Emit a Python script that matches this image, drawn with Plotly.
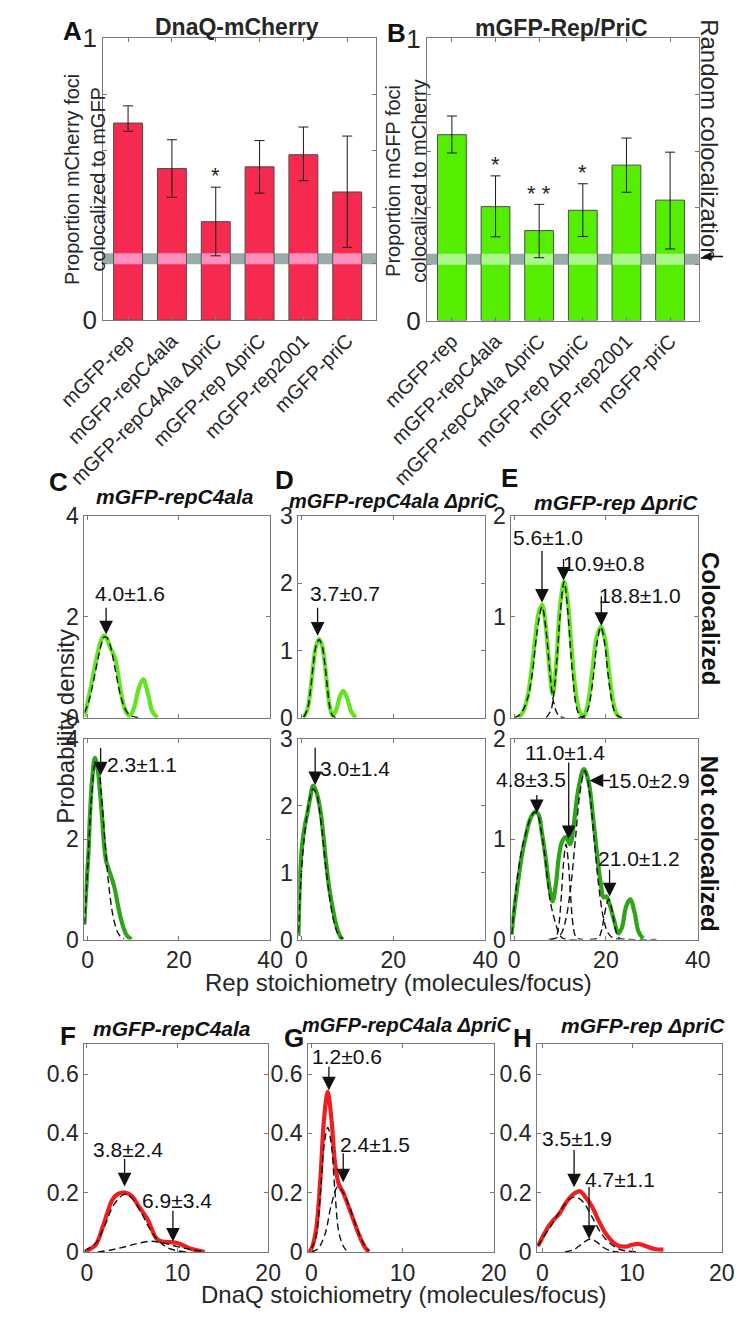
import plotly.graph_objects as go

W, H = 745, 1322
FONT = "Liberation Sans, Arial, Helvetica, sans-serif"
INK = "#262626"
AXC = "#7a7a7a"

# ---------------- data: colocalization bar charts (A, B) ----------------
strains = ["mGFP-rep", "mGFP-repC4ala", "mGFP-repC4Ala ΔpriC",
           "mGFP-rep ΔpriC", "mGFP-rep2001", "mGFP-priC"]
bar_pos = [1, 2, 3, 4, 5, 6]
dnaq_coloc = [0.698, 0.537, 0.349, 0.543, 0.586, 0.454]
dnaq_err_hi = [0.061, 0.102, 0.122, 0.093, 0.098, 0.198]
dnaq_err_lo = [0.029, 0.102, 0.121, 0.093, 0.092, 0.196]
dnaq_sig = ["", "", "*", "", "", ""]
rep_coloc = [0.659, 0.404, 0.319, 0.391, 0.551, 0.427]
rep_err_hi = [0.066, 0.109, 0.093, 0.094, 0.096, 0.170]
rep_err_lo = [0.065, 0.107, 0.096, 0.093, 0.096, 0.173]
rep_sig = ["", "*", "* *", "*", "", ""]
random_band = [0.198, 0.237]

# ---------------- data: Rep stoichiometry (C, D, E) ----------------
# C  mGFP-repC4ala
c_col_x = [-0.7, 0, 1, 2, 3, 3.6, 4.3, 5, 5.6, 6.1, 6.7, 7.3, 8, 8.7, 9.3, 10.2, 11.2, 12.2, 13.2, 14.2, 15.3]
c_col_y = [0.02, 0.3, 0.75, 1.2, 1.55, 1.63, 1.55, 1.38, 1.27, 1.15, 0.85, 0.5, 0.22, 0.07, 0.04, 0.2, 0.58, 0.76, 0.48, 0.12, 0]
c_col_fit_x = [-0.7, 0, 1, 2, 3, 3.6, 4.3, 5, 6, 7, 8, 9, 10, 11, 12]
c_col_fit_y = [0.1, 0.25, 0.6, 1.05, 1.45, 1.6, 1.58, 1.42, 0.98, 0.52, 0.22, 0.07, 0.02, 0.005, 0]
c_not_x = [-0.7, -0.5, -0.1, 0.2, 0.5, 1.0, 1.6, 2.2, 2.7, 3.2, 3.6, 4.1, 4.7, 5.3, 5.9, 6.5, 7.2, 8.0, 8.6, 9.6]
c_not_y = [0.3, 0.7, 1.3, 1.75, 2.45, 3.2, 3.62, 3.4, 2.95, 2.4, 1.9, 1.55, 1.38, 1.22, 1.03, 0.75, 0.45, 0.2, 0.08, 0]
c_not_fit_x = [-0.7, -0.5, 0, 0.5, 1, 1.7, 2.3, 3, 3.6, 4.2, 4.8, 5.4, 6, 6.6, 7.2, 8]
c_not_fit_y = [0.3, 0.6, 1.4, 2.3, 3.0, 3.5, 3.45, 2.9, 2.2, 1.5, 0.95, 0.55, 0.3, 0.14, 0.06, 0.01]
c_col_peaks = [("4.0±1.6", 4.05, 1.65, 4.05, 2.21, 9.2, 2.47)]
c_not_peaks = [("2.3±1.1", 2.85, 3.27, 2.85, 3.85, 11.9, 3.48)]

# D  mGFP-repC4ala ΔpriC
d_col_x = [0.5, 1.3, 2, 2.6, 3.2, 3.85, 4.5, 5.1, 5.7, 6.2, 6.8, 7.5, 8.3, 9.1, 9.9, 10.8, 11.8]
d_col_y = [0, 0.12, 0.42, 0.8, 1.07, 1.17, 1.07, 0.8, 0.42, 0.15, 0.03, 0.1, 0.3, 0.4, 0.3, 0.1, 0]
d_col_fit_x = [0.5, 1.3, 2, 2.6, 3.2, 3.85, 4.5, 5.1, 5.7, 6.2, 6.8, 7.5]
d_col_fit_y = [0.01, 0.12, 0.42, 0.8, 1.07, 1.16, 1.07, 0.8, 0.42, 0.15, 0.03, 0]
d_not_x = [-0.65, -0.45, -0.2, 0.3, 0.8, 1.4, 2, 2.5, 3, 3.5, 4.2, 4.8, 5.3, 6, 6.6, 7.3, 8, 8.7, 9.1]
d_not_y = [0.05, 0.6, 1.1, 1.5, 1.72, 1.92, 2.15, 2.3, 2.25, 2.15, 1.9, 1.55, 1.2, 0.8, 0.55, 0.3, 0.12, 0.02, 0]
d_not_fit_x = [-0.65, -0.4, 0, 0.6, 1.2, 1.8, 2.5, 3.2, 3.9, 4.6, 5.3, 6, 6.8, 7.6, 8.4, 9]
d_not_fit_y = [0.1, 0.5, 1.0, 1.5, 1.85, 2.1, 2.25, 2.2, 1.95, 1.55, 1.1, 0.7, 0.35, 0.14, 0.04, 0.01]
d_col_peaks = [("3.7±0.7", 3.53, 1.22, 3.53, 1.66, 9.5, 1.85)]
d_not_peaks = [("3.0±1.4", 3.0, 2.31, 3.0, 2.89, 11.7, 2.55)]

# E  mGFP-rep ΔpriC
e_col_x = [1, 2, 3, 3.7, 4.7, 5.4, 6.1, 6.8, 7.6, 8.4, 9.2, 10, 10.9, 11.7, 12.5, 13.3, 14.2, 15.1,
           16, 17, 18, 18.9, 19.8, 20.7, 21.5, 22.3, 23.1]
e_col_y = [0, 0.06, 0.22, 0.44, 0.83, 1.05, 1.12, 0.95, 0.55, 0.23, 0.55, 1.1, 1.35, 1.15, 0.7, 0.3, 0.07, 0.01,
           0.12, 0.45, 0.8, 0.9, 0.78, 0.45, 0.18, 0.04, 0]
e_col_fit1_x = [0, 1, 2, 3, 4, 5, 6.1, 7, 7.8, 8.5, 9.3, 10, 11]
e_col_fit1_y = [0, 0.02, 0.08, 0.2, 0.45, 0.85, 1.1, 0.85, 0.45, 0.18, 0.05, 0.01, 0]
e_col_fit2_x = [7, 8, 8.5, 9, 9.5, 10, 10.9, 11.8, 12.3, 12.8, 13.3, 13.8, 14.5, 15.5]
e_col_fit2_y = [0, 0.07, 0.18, 0.4, 0.68, 1.0, 1.35, 1.0, 0.68, 0.4, 0.18, 0.07, 0.01, 0]
e_col_fit3_x = [14, 15, 16, 16.5, 17, 17.5, 18, 18.9, 19.8, 20.3, 20.8, 21.3, 21.8, 22.8, 24]
e_col_fit3_y = [0, 0.01, 0.07, 0.16, 0.31, 0.5, 0.72, 0.9, 0.72, 0.5, 0.31, 0.16, 0.07, 0.01, 0]
e_not_x = [-0.55, 0, 1, 1.7, 2.5, 3.5, 4.5, 5.3, 6, 6.8, 7.6, 8.4, 9.1, 9.8, 10.5, 11.3, 12.2, 13, 14,
           15.2, 16.2, 17.2, 18.1, 18.9, 19.5, 20.1, 20.8, 21.8, 22.7, 23.5, 24.4, 25.3, 26.2, 27.1, 28.1]
e_not_y = [0.05, 0.28, 0.62, 0.84, 1.02, 1.2, 1.27, 1.25, 1.08, 0.84, 0.55, 0.38, 0.55, 0.84, 0.98, 1.02, 0.95,
           1.15, 1.5, 1.7, 1.58, 1.22, 0.84, 0.55, 0.42, 0.43, 0.35, 0.19, 0.06, 0.12, 0.33, 0.4, 0.28, 0.08, 0.01]
e_not_fit1_x = [-0.55, 0, 0.8, 1.7, 2.5, 3.5, 4.5, 5.3, 6, 6.8, 7.5, 8.1, 8.8, 9.6, 10.4, 11.5, 14]
e_not_fit1_y = [0.05, 0.3, 0.65, 0.9, 1.05, 1.2, 1.27, 1.22, 1.05, 0.8, 0.5, 0.33, 0.2, 0.08, 0.02, 0, 0]
e_not_fit2_x = [7.5, 8.8, 9.3, 9.8, 10.3, 10.8, 11.3, 11.8, 12.3, 12.8, 13.3, 13.8, 15]
e_not_fit2_y = [0, 0.01, 0.04, 0.16, 0.44, 0.78, 0.95, 0.78, 0.44, 0.16, 0.04, 0.01, 0]
e_not_fit3_x = [8, 9.4, 10.4, 11.4, 12.4, 13.4, 14.4, 15.4, 16.4, 17.4, 18.4, 19.4, 20.4, 21.4, 23]
e_not_fit3_y = [0, 0.02, 0.07, 0.23, 0.55, 1.02, 1.48, 1.68, 1.48, 1.02, 0.55, 0.23, 0.07, 0.02, 0]
e_not_fit4_x = [16.5, 18.1, 18.6, 19.1, 19.6, 20.1, 20.6, 21.1, 21.6, 22.1, 22.6, 23.1, 25, 31]
e_not_fit4_y = [0, 0.01, 0.03, 0.1, 0.22, 0.34, 0.4, 0.34, 0.22, 0.1, 0.03, 0.01, 0, 0]
e_col_peaks = [("5.6±1.0", 6.08, 1.14, 6.08, 1.67, 7.4, 1.79),
               ("10.9±0.8", 10.77, 1.36, 10.77, 1.59, 19.6, 1.53),
               ("18.8±1.0", 19.0, 0.91, 19.0, 1.22, 27.5, 1.21)]
e_not_peaks = [("4.8±3.5", 4.95, 1.26, 4.95, 1.455, 3.75, 1.60),
               ("11.0±1.4", 11.9, 1.0, 11.9, 1.78, 11.0, 1.86),
               ("15.0±2.9", 16.45, 1.585, 21.3, 1.585, 29.5, 1.585),
               ("21.0±1.2", 20.8, 0.43, 20.8, 0.71, 27.3, 0.81)]

# ---------------- data: DnaQ stoichiometry (F, G, H) ----------------
f_x = [-0.25, 0, 1, 1.7, 2.3, 2.8, 3.4, 4.2, 5, 5.7, 6.7, 7.7, 8.3, 9.2, 10, 10.8, 11.6, 12.4, 13]
f_y = [0, 0.004, 0.025, 0.079, 0.135, 0.175, 0.195, 0.2, 0.188, 0.155, 0.11, 0.045, 0.035, 0.033, 0.03, 0.02,
       0.01, 0.004, 0]
f_fit1_x = [-0.25, 0, 1, 2, 3, 4.2, 5, 6, 7, 8, 9, 10, 11]
f_fit1_y = [0.003, 0.008, 0.03, 0.09, 0.16, 0.195, 0.18, 0.133, 0.075, 0.035, 0.013, 0.004, 0]
f_fit2_x = [1.2, 2.5, 4, 5.5, 7, 8.5, 10, 11.5, 13]
f_fit2_y = [0, 0.006, 0.016, 0.028, 0.036, 0.03, 0.018, 0.008, 0.002]
f_peaks = [("3.8±2.4", 4.17, 0.221, 4.17, 0.319, 4.57, 0.347),
           ("6.9±3.4", 9.5, 0.035, 9.5, 0.144, 9.97, 0.172)]

g_x = [-0.3, 0, 0.5, 1, 1.4, 1.8, 2.2, 2.6, 3.0, 3.5, 4, 4.6, 5.2, 5.8, 6.3]
g_y = [0, 0.01, 0.07, 0.25, 0.45, 0.54, 0.45, 0.3, 0.23, 0.2, 0.16, 0.11, 0.06, 0.02, 0]
g_fit1_x = [0, 0.5, 1, 1.4, 1.8, 2.2, 2.6, 3, 3.5, 4]
g_fit1_y = [0.01, 0.05, 0.2, 0.36, 0.42, 0.36, 0.2, 0.07, 0.02, 0]
g_fit2_x = [0, 0.7, 1.5, 2.2, 2.9, 3.5, 4.2, 5, 5.7, 6.3]
g_fit2_y = [0, 0.01, 0.06, 0.16, 0.22, 0.2, 0.15, 0.08, 0.03, 0.005]
g_peaks = [("1.2±0.6", 1.93, 0.545, 1.93, 0.63, 3.9, 0.66),
           ("2.4±1.5", 3.5, 0.235, 3.5, 0.338, 7.0, 0.363)]

h_x = [-0.5, 0, 0.7, 1.3, 1.9, 2.5, 3.1, 3.7, 4.2, 4.8, 5.5, 6.2, 7, 7.7, 8.4, 9.2, 10, 10.7, 11.5, 12.5, 13.5]
h_y = [0.02, 0.05, 0.087, 0.11, 0.13, 0.16, 0.185, 0.2, 0.205, 0.185, 0.155, 0.11, 0.065, 0.038, 0.022, 0.018,
       0.024, 0.027, 0.02, 0.01, 0.008]
h_fit1_x = [-0.5, 0, 1, 2, 3, 3.7, 4.5, 5.5, 6.5, 7.5, 8.5, 9.5, 10.5]
h_fit1_y = [0.02, 0.045, 0.09, 0.14, 0.178, 0.185, 0.17, 0.12, 0.065, 0.03, 0.01, 0.003, 0]
h_fit2_x = [2.5, 3.5, 4.3, 5, 5.4, 6, 6.8, 7.6, 8.5]
h_fit2_y = [0, 0.008, 0.025, 0.04, 0.044, 0.035, 0.015, 0.004, 0]
h_peaks = [("3.5±1.9", 3.53, 0.218, 3.53, 0.349, 3.87, 0.382),
           ("4.7±1.1", 5.2, 0.044, 5.2, 0.224, 8.6, 0.245)]

# ---------------- styling ----------------
RED_BAR, PINK = "#f6294f", "#ff8fbd"
GREEN_BAR, LGREEN = "#56ee00", "#aaf78b"
BAND = "#9aaca8"
LIGHT_G, DARK_G, RED_L = "#62e41e", "#2ea418", "#f01e1e"
TICK_SIZE = 23
NOTE_SIZE = 21


def px_dom_x(l, r):
    return [l / W, r / W]


def px_dom_y(t, b):
    return [1 - b / H, 1 - t / H]


def axis(**kw):
    d = dict(showline=True, linecolor=AXC, linewidth=1, mirror="ticks", ticks="inside",
             ticklen=4, tickcolor=AXC, showgrid=False, zeroline=False,
             tickfont=dict(family=FONT, size=TICK_SIZE, color=INK), fixedrange=True)
    d.update(kw)
    return d


fig = go.Figure()
layout = dict(width=W, height=H, margin=dict(l=0, r=0, t=0, b=0), showlegend=False,
              plot_bgcolor="white", paper_bgcolor="white", barmode="overlay",
              font=dict(family=FONT, color=INK))
annotations = []
shapes = []

# ---------------- A & B ----------------
bar_specs = [
    ("", (61, 358), (23.3, 312.3), dnaq_coloc, dnaq_err_hi, dnaq_err_lo, dnaq_sig, RED_BAR, PINK),
    ("2", (413.3, 709), (24, 312.7), rep_coloc, rep_err_hi, rep_err_lo, rep_sig, GREEN_BAR, LGREEN),
]
for sfx, xd, yd, vals, ehi, elo, sig, col, ov in bar_specs:
    xa, ya = "x" + sfx, "y" + sfx
    fig.add_trace(go.Bar(x=bar_pos, y=vals, width=0.66, marker=dict(color=col, line=dict(color="#4d4d4d", width=1)),
                         xaxis=xa, yaxis=ya, hoverinfo="skip"))
    fig.add_trace(go.Bar(x=bar_pos, y=[random_band[1] - random_band[0]] * len(bar_pos), base=random_band[0],
                         width=0.64, marker=dict(color=ov, line=dict(width=0)), xaxis=xa, yaxis=ya, hoverinfo="skip"))
    fig.add_trace(go.Bar(x=bar_pos, y=vals, width=0.66, marker=dict(color="rgba(0,0,0,0)", line=dict(width=0)),
                         error_y=dict(type="data", array=ehi, arrayminus=elo, color="#1a1a1a", thickness=1, width=5),
                         xaxis=xa, yaxis=ya, hoverinfo="skip"))
    shapes.append(dict(type="rect", xref=xa + " domain", yref=ya, x0=0, x1=1, y0=random_band[0], y1=random_band[1],
                       fillcolor=BAND, line=dict(width=0), layer="below"))
    layout["xaxis" + sfx] = axis(domain=px_dom_x(*xd), range=[0.43, 6.66], tickvals=bar_pos, ticktext=strains,
                                 tickangle=-45, tickfont=dict(family=FONT, size=20, color=INK), anchor=ya)
    layout["yaxis" + sfx] = axis(domain=px_dom_y(*yd), range=[0, 1], tickvals=[0, 0.2, 0.4, 0.6, 0.8, 1],
                                 ticktext=["0", "", "", "", "", "1"], tickfont=dict(family=FONT, size=26, color=INK),
                                 anchor=xa)
    for i, s in enumerate(sig):
        if s:
            annotations.append(dict(x=bar_pos[i], y=vals[i] + ehi[i] + 0.04, xref=xa, yref=ya, text=s,
                                    showarrow=False, font=dict(family=FONT, size=22, color=INK),
                                    xanchor="center", yanchor="middle"))

# ---------------- C-H density panels ----------------
panels = [
    dict(n=3, xd=(40.7, 242.7), yd=(512.7, 719), xr=[-0.7, 40], yr=[0, 4], yt=[0, 2, 4], xt=[0, 20, 40], xlab=False,
         col=LIGHT_G, cx=c_col_x, cy=c_col_y, fits=[(c_col_fit_x, c_col_fit_y)], peaks=c_col_peaks),
    dict(n=4, xd=(40.7, 242.7), yd=(740.7, 946), xr=[-0.7, 40], yr=[0, 4], yt=[0, 2, 4], xt=[0, 20, 40], xlab=True,
         col=DARK_G, cx=c_not_x, cy=c_not_y, fits=[(c_not_fit_x, c_not_fit_y)], peaks=c_not_peaks),
    dict(n=5, xd=(273.3, 476.7), yd=(512.7, 719), xr=[-0.67, 40], yr=[0, 3], yt=[0, 1, 2, 3], xt=[0, 20, 40], xlab=False,
         col=LIGHT_G, cx=d_col_x, cy=d_col_y, fits=[(d_col_fit_x, d_col_fit_y)], peaks=d_col_peaks),
    dict(n=6, xd=(273.3, 476.7), yd=(740.7, 946), xr=[-0.67, 40], yr=[0, 3], yt=[0, 1, 2, 3], xt=[0, 20, 40], xlab=True,
         col=DARK_G, cx=d_not_x, cy=d_not_y, fits=[(d_not_fit_x, d_not_fit_y)], peaks=d_not_peaks),
    dict(n=7, xd=(505, 707.7), yd=(512.7, 719), xr=[-0.6, 40], yr=[0, 2], yt=[0, 1, 2], xt=[0, 20, 40], xlab=False,
         col=LIGHT_G, cx=e_col_x, cy=e_col_y,
         fits=[(e_col_fit1_x, e_col_fit1_y), (e_col_fit2_x, e_col_fit2_y), (e_col_fit3_x, e_col_fit3_y)],
         peaks=e_col_peaks),
    dict(n=8, xd=(505, 707.7), yd=(740.7, 946), xr=[-0.6, 40], yr=[0, 2], yt=[0, 1, 2], xt=[0, 20, 40], xlab=True,
         col=DARK_G, cx=e_not_x, cy=e_not_y,
         fits=[(e_not_fit1_x, e_not_fit1_y), (e_not_fit2_x, e_not_fit2_y), (e_not_fit3_x, e_not_fit3_y),
               (e_not_fit4_x, e_not_fit4_y)],
         peaks=e_not_peaks),
    dict(n=9, xd=(40.7, 240.7), yd=(1053.3, 1265.7), xr=[-0.26, 20.02], yr=[0, 0.7], yt=[0, 0.2, 0.4, 0.6],
         xt=[0, 10, 20], xlab=True, col=RED_L, cx=f_x, cy=f_y, fits=[(f_fit1_x, f_fit1_y), (f_fit2_x, f_fit2_y)],
         peaks=f_peaks),
    dict(n=10, xd=(284, 486), yd=(1053.3, 1265.7), xr=[-0.35, 20.02], yr=[0, 0.7], yt=[0, 0.2, 0.4, 0.6],
         xt=[0, 10, 20], xlab=True, col=RED_L, cx=g_x, cy=g_y, fits=[(g_fit1_x, g_fit1_y), (g_fit2_x, g_fit2_y)],
         peaks=g_peaks),
    dict(n=11, xd=(533, 734), yd=(1053.3, 1265.7), xr=[-0.6, 20.02], yr=[0, 0.7], yt=[0, 0.2, 0.4, 0.6],
         xt=[0, 10, 20], xlab=True, col=RED_L, cx=h_x, cy=h_y, fits=[(h_fit1_x, h_fit1_y), (h_fit2_x, h_fit2_y)],
         peaks=h_peaks),
]

for p in panels:
    n = p["n"]
    xa, ya = "x%d" % n, "y%d" % n
    fig.add_trace(go.Scatter(x=p["cx"], y=p["cy"], mode="lines", line=dict(color=p["col"], width=4.2, shape="spline"),
                             xaxis=xa, yaxis=ya, hoverinfo="skip"))
    for fx, fy in p["fits"]:
        fig.add_trace(go.Scatter(x=fx, y=fy, mode="lines",
                                 line=dict(color="#111111", width=1.4, dash="7px,4px", shape="spline"),
                                 xaxis=xa, yaxis=ya, hoverinfo="skip"))
    ylabels = [("%g" % v) for v in p["yt"]]
    layout["xaxis%d" % n] = axis(domain=px_dom_x(*p["xd"]), range=p["xr"], tickvals=p["xt"],
                                 showticklabels=p["xlab"], anchor=ya)
    layout["yaxis%d" % n] = axis(domain=px_dom_y(*p["yd"]), range=p["yr"], tickvals=p["yt"], ticktext=ylabels,
                                 anchor=xa)
    for lab, tx, ty, ax_, ay_, lx, ly in p["peaks"]:
        annotations.append(dict(x=tx, y=ty, ax=ax_, ay=ay_, xref=xa, yref=ya, axref=xa, ayref=ya, text="",
                                showarrow=True, arrowhead=2, arrowsize=2.1, arrowwidth=1.3, arrowcolor="#111111"))
        annotations.append(dict(x=lx, y=ly, xref=xa, yref=ya, text=lab, showarrow=False,
                                font=dict(family=FONT, size=NOTE_SIZE, color="#111111"),
                                xanchor="center", yanchor="middle"))


# ---------------- paper-level texts ----------------
def ptxt(x, y, text, size, bold=False, italic=False, angle=0, color="#111111"):
    t = text
    if italic:
        t = "<i>" + t + "</i>"
    if bold:
        t = "<b>" + t + "</b>"
    annotations.append(dict(x=x / W, y=1 - y / H, xref="paper", yref="paper", text=t, showarrow=False,
                            textangle=angle, font=dict(family=FONT, size=size, color=color),
                            xanchor="center", yanchor="middle"))


# panel letters
for letter, x, y in [("A", 27.5, 16), ("B", 380, 18), ("C", 12, 478), ("D", 258, 476), ("E", 503, 474),
                     ("F", 23, 1045), ("G", 269, 1047), ("H", 517, 1047)]:
    ptxt(x, y, letter, 26, bold=True)

ptxt(207, 12, "DnaQ-mCherry", 23, bold=True, color=INK)
ptxt(560, 13, "mGFP-Rep/PriC", 23, bold=True, color=INK)
ptxt(41, 168, "Proportion mCherry foci<br>colocalized to mGFP", 20, angle=-90, color=INK)
ptxt(391, 170, "Proportion mGFP foci<br>colocalized to mCherry", 20, angle=-90, color=INK)
ptxt(721, 128, "Random colocalization", 24, angle=90, color=INK)
annotations.append(dict(x=713 / W, y=1 - 247 / H, ax=22, ay=0, xref="paper", yref="paper",
                        axref="pixel", ayref="pixel", text="", showarrow=True, arrowhead=2, arrowsize=1.2,
                        arrowwidth=1.5, arrowcolor="#111111"))

ptxt(139, 493, "mGFP-repC4ala", 21, bold=True, italic=True)
ptxt(377, 497, "mGFP-repC4ala ΔpriC", 20, bold=True, italic=True)
ptxt(619, 499, "mGFP-rep ΔpriC", 21, bold=True, italic=True)
ptxt(20, 728, "Probability density", 24, angle=-90, color=INK)
ptxt(382, 990, "Rep stoichiometry (molecules/focus)", 24, color=INK)
ptxt(721, 618, "Colocalized", 24, bold=True, angle=90)
ptxt(720, 848, "Not colocalized", 24, bold=True, angle=90)

ptxt(136, 1037, "mGFP-repC4ala", 21, bold=True, italic=True)
ptxt(391, 1033, "mGFP-repC4ala ΔpriC", 20, bold=True, italic=True)
ptxt(648, 1034, "mGFP-rep ΔpriC", 21, bold=True, italic=True)
ptxt(388, 1309, "DnaQ stoichiometry (molecules/focus)", 24, color=INK)

layout["annotations"] = annotations
layout["shapes"] = shapes
fig.update_layout(**layout)

fig.write_html("out.html", config={"displayModeBar": False, "staticPlot": True},
               post_script="document.body.style.margin='0';document.body.style.overflow='hidden';")
